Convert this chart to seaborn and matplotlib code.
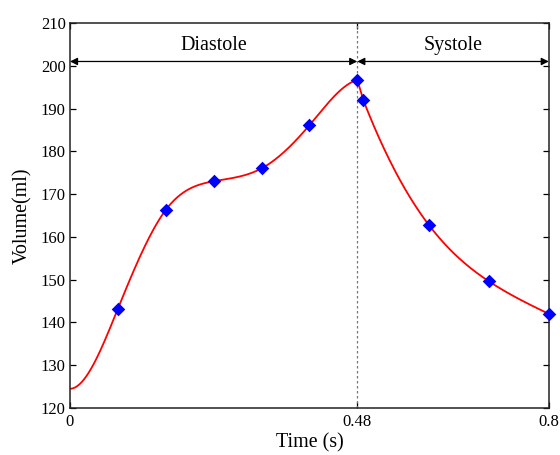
import numpy as np
import pandas as pd
import matplotlib
matplotlib.use("Agg")
import matplotlib.pyplot as plt
import seaborn as sns

# Measured left-ventricular volume over one cardiac cycle
time_s = [0.08, 0.16, 0.24, 0.32, 0.40, 0.48, 0.49, 0.60, 0.70, 0.80]
volume_ml = [143.2, 166.3, 173.0, 176.0, 186.1, 196.7, 192.0, 162.7, 149.6, 142.0]

# Volume at the start of the cycle (end of systole of the previous beat)
start_time_s = 0.0
start_volume_ml = 124.5

t_transition = 0.48          # diastole -> systole
t_end = 0.80
x_ticks = [0, 0.48, 0.8]
x_tick_labels = ["0", "0.48", "0.8"]
y_ticks = list(range(120, 211, 10))
phase_names = ["Diastole", "Systole"]


def cubic_spline(x, y, xs, d_start=None, d_end=None):
    """Cubic spline through (x, y); natural ends unless a slope is given."""
    x = np.asarray(x, float)
    y = np.asarray(y, float)
    n = len(x)
    h = np.diff(x)
    delta = np.diff(y) / h
    A = np.zeros((n, n))
    b = np.zeros(n)
    for k in range(1, n - 1):
        A[k, k - 1] = h[k - 1]
        A[k, k] = 2 * (h[k - 1] + h[k])
        A[k, k + 1] = h[k]
        b[k] = 6 * (delta[k] - delta[k - 1])
    if d_start is None:
        A[0, 0] = 1.0
    else:
        A[0, 0], A[0, 1] = 2 * h[0], h[0]
        b[0] = 6 * (delta[0] - d_start)
    if d_end is None:
        A[-1, -1] = 1.0
    else:
        A[-1, -2], A[-1, -1] = h[-1], 2 * h[-1]
        b[-1] = 6 * (d_end - delta[-1])
    M = np.linalg.solve(A, b)
    idx = np.clip(np.searchsorted(x, xs) - 1, 0, n - 2)
    hi = h[idx]
    a = x[idx + 1] - xs
    c = xs - x[idx]
    return (M[idx] * a**3 / (6 * hi) + M[idx + 1] * c**3 / (6 * hi)
            + (y[idx] / hi - M[idx] * hi / 6) * a
            + (y[idx + 1] / hi - M[idx + 1] * hi / 6) * c)


t_all = np.array([start_time_s] + time_s)
v_all = np.array([start_volume_ml] + volume_ml)

# Diastolic filling: flat start, easing into the end-diastolic peak
dia = t_all <= t_transition + 1e-9
td, vd = t_all[dia], v_all[dia]
xs_d = np.linspace(td[0], td[-1], 400)
ys_d = cubic_spline(td, vd, xs_d, d_start=0.0, d_end=40.0)

# Systolic ejection: sharp drop right after the peak, then a smooth decay
sys_ = t_all > t_transition + 1e-9
ts, vs = t_all[sys_], v_all[sys_]
xs_s = np.linspace(ts[0], ts[-1], 400)
ys_s = cubic_spline(ts, vs, xs_s, d_start=-360.0)

curve = pd.DataFrame({"t": np.concatenate([xs_d, xs_s]),
                      "v": np.concatenate([ys_d, ys_s])})
points = pd.DataFrame({"t": time_s, "v": volume_ml})

sns.set_theme(style="ticks")
plt.rcParams["font.family"] = ["Liberation Serif", "DejaVu Serif"]

fig = plt.figure(figsize=(5.6, 4.55), dpi=100)
ax = fig.add_axes([0.125, 0.1033, 0.855, 0.8462])

ax.axvline(t_transition, color="#777777", lw=0.9, ls=(0, (2, 2)), zorder=1)

sns.lineplot(data=curve, x="t", y="v", ax=ax, color="#ff0000", lw=1.3,
             sort=False, zorder=2)
sns.scatterplot(data=points, x="t", y="v", ax=ax, marker="D", s=48,
                color="#0000ff", edgecolor="#0000ff", linewidth=0, zorder=3,
                clip_on=False)

# Phase arrows
arrow_y = 201
arrow_kw = dict(arrowstyle="<|-|>", color="black", lw=0.9,
                mutation_scale=11, shrinkA=0, shrinkB=0)
ax.annotate("", xy=(0, arrow_y), xytext=(t_transition, arrow_y),
            arrowprops=arrow_kw, annotation_clip=False)
ax.annotate("", xy=(t_transition, arrow_y), xytext=(t_end, arrow_y),
            arrowprops=arrow_kw, annotation_clip=False)
ax.text(t_transition / 2, arrow_y + 1.4, phase_names[0], ha="center",
        va="bottom", fontsize=14.4, color="black")
ax.text((t_transition + t_end) / 2, arrow_y + 1.4, phase_names[1],
        ha="center", va="bottom", fontsize=14.4, color="black")

ax.set_xlim(0, t_end)
ax.set_ylim(120, 210)
ax.set_xticks(x_ticks)
ax.set_xticklabels(x_tick_labels)
ax.set_yticks(y_ticks)
ax.tick_params(direction="in", length=4, width=0.9, labelsize=12,
               colors="black", top=True, right=True, pad=3)
ax.tick_params(axis="x", pad=4)
for sp in ax.spines.values():
    sp.set_visible(True)
    sp.set_linewidth(1.1)
    sp.set_color("#222222")

ax.set_xlabel("Time (s)", fontsize=14.4, color="black", labelpad=3)
ax.set_ylabel("Volume(ml)", fontsize=14.4, color="black", labelpad=6)

fig.savefig("out.png", dpi=100)
